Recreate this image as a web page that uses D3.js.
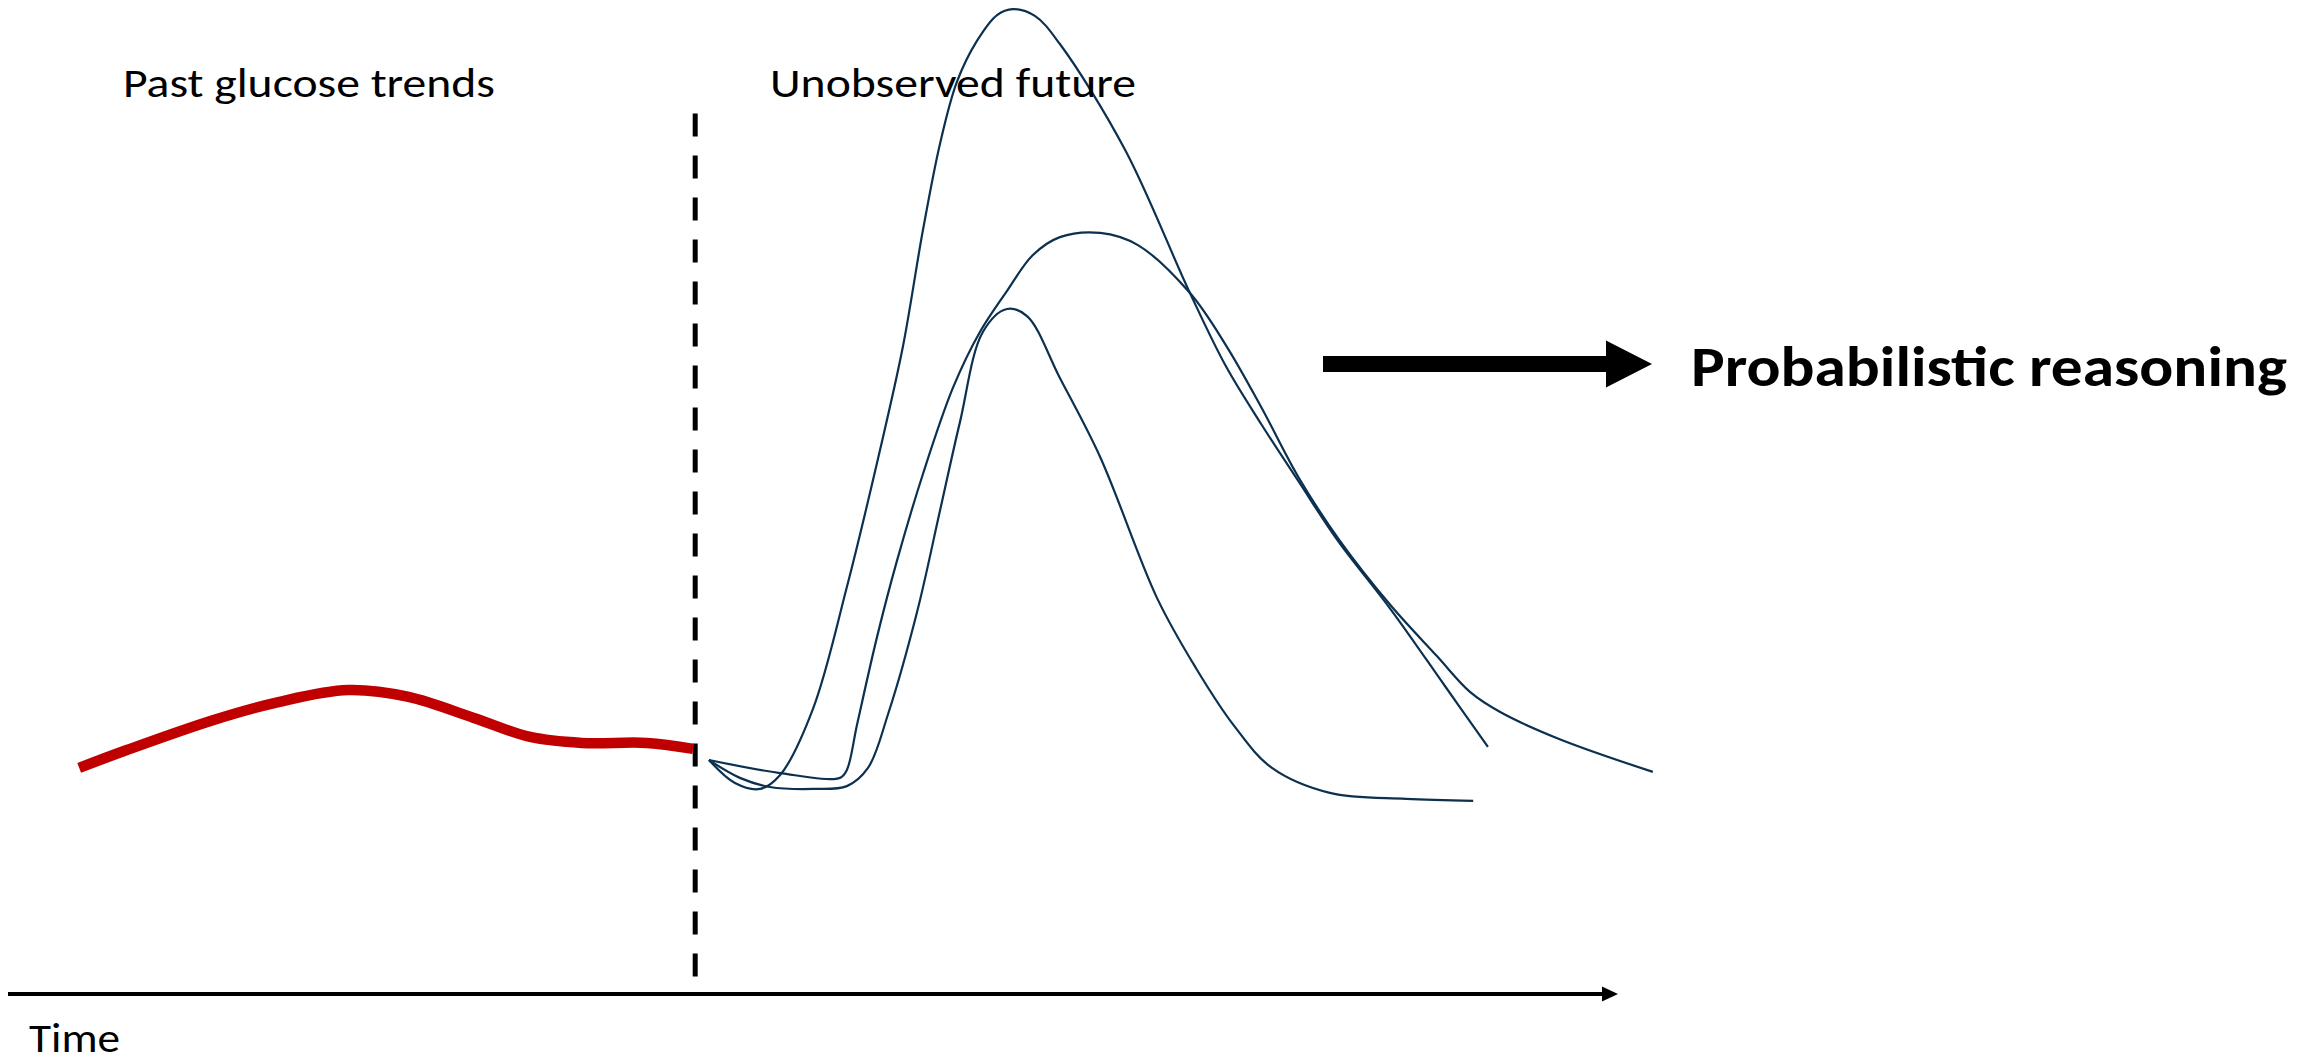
<!DOCTYPE html>
<html>
<head>
<meta charset="utf-8">
<script src="https://cdn.jsdelivr.net/npm/d3@7"></script>
<style>
  html, body { margin: 0; padding: 0; background: #fff; }
  svg { display: block; }
  text { font-family: Carlito, Lato, "Open Sans", sans-serif; fill: #000; }
</style>
</head>
<body>
<svg id="chart" width="2323" height="1063"></svg>
<script>
// time in minutes, glucose in mg/dL
const pastTime    = [14.5, 24.2, 41.9, 55.1, 69.3, 81.6, 94.9, 106.4, 116.9, 130.2, 139.6];
const pastGlucose = [79.6, 85.9, 96.5, 102.8, 107.0, 104.6, 97.2, 90.5, 88.4, 88.4, 86.3];

const highTime    = [142.8, 148.1, 153.2, 157.3, 164.0, 170.9, 177.7, 182.3, 186.4, 189.9, 193.3, 197.4, 201.5, 204.7, 209.2, 214.3, 227.6, 240.8, 248.1, 255.3, 263.0, 270.8, 281.8, 292.6, 301.5];
const highGlucose = [82.4, 74.3, 72.2, 77.1, 100.4, 143.3, 191.9, 227.8, 269.0, 299.6, 321.1, 335.6, 344.7, 346.8, 344.4, 334.5, 297.2, 246.8, 221.1, 200.7, 180.3, 159.9, 135.2, 108.8, 87.0];

const midTime     = [142.8, 157.3, 169.5, 170.9, 173.0, 177.0, 181.1, 186.4, 192.5, 198.0, 203.5, 208.8, 214.3, 222.5, 230.2, 240.8, 248.1, 255.3, 263.0, 271.2, 281.8, 291.1, 297.9, 304.0, 316.0, 335.1];
const midGlucose  = [82.4, 77.8, 76.1, 78.9, 95.1, 125.4, 152.5, 183.1, 213.4, 233.1, 247.5, 260.2, 266.5, 268.0, 263.7, 246.8, 228.5, 206.7, 181.7, 159.9, 136.6, 119.0, 106.3, 99.3, 89.8, 78.2];

const lowTime     = [142.8, 149.1, 155.2, 164.0, 170.9, 175.2, 179.3, 185.2, 189.9, 193.9, 198.6, 203.5, 207.6, 214.3, 222.5, 234.1, 242.0, 249.8, 257.5, 269.3, 284.8, 298.5];
const lowGlucose  = [82.4, 76.1, 72.9, 72.2, 73.2, 79.6, 98.6, 134.5, 170.4, 201.1, 233.1, 241.2, 238.7, 216.9, 189.1, 139.4, 114.8, 94.4, 79.6, 70.8, 68.7, 68.0];

const nowTime = 140;
const labels = ["Past glucose trends", "Unobserved future", "Time", "Probabilistic reasoning"];

const svg = d3.select("#chart");

const x = d3.scaleLinear().domain([0, 328]).range([8, 1618]);
const y = d3.scaleLinear().domain([0, 350]).range([994, 0]);

const zip = (ts, gs) => ts.map((t, i) => ({ t: t, g: gs[i] }));

const line = d3.line()
  .x(d => x(d.t))
  .y(d => y(d.g))
  .curve(d3.curveCatmullRom.alpha(0.5));

// time axis
const axis = svg.append("g")
  .attr("transform", "translate(0," + y(0) + ")")
  .call(d3.axisBottom(x).tickValues([]).tickSizeOuter(0));
axis.select(".domain")
  .attr("d", "M" + x(0) + ",0H" + (x(328) - 8))
  .attr("stroke", "#000")
  .attr("stroke-width", 4);
axis.append("path")
  .attr("d", "M" + (x(328) - 16) + ",-7.5L" + x(328) + ",0L" + (x(328) - 16) + ",7.5Z")
  .attr("fill", "#000");

// now marker
svg.append("line")
  .attr("x1", x(nowTime)).attr("x2", x(nowTime))
  .attr("y1", y(310)).attr("y2", y(5.6))
  .attr("stroke", "#000")
  .attr("stroke-width", 5)
  .attr("stroke-dasharray", "23,19");

// observed history
svg.append("path")
  .datum(zip(pastTime, pastGlucose))
  .attr("d", line)
  .attr("fill", "none")
  .attr("stroke", "#c00000")
  .attr("stroke-width", 10.5);

// sampled futures
const futures = [zip(highTime, highGlucose), zip(midTime, midGlucose), zip(lowTime, lowGlucose)];
svg.selectAll("path.future")
  .data(futures)
  .enter()
  .append("path")
  .attr("class", "future")
  .attr("d", line)
  .attr("fill", "none")
  .attr("stroke", "#0c3150")
  .attr("stroke-width", 2.2)
  .attr("stroke-linejoin", "round");

// labels
svg.append("text")
  .attr("x", 123).attr("y", 97)
  .attr("font-size", 41)
  .attr("textLength", 372).attr("lengthAdjust", "spacingAndGlyphs")
  .text(labels[0]);

svg.append("text")
  .attr("x", 770).attr("y", 97)
  .attr("font-size", 41)
  .attr("textLength", 366).attr("lengthAdjust", "spacingAndGlyphs")
  .text(labels[1]);

svg.append("text")
  .attr("x", 29).attr("y", 1052)
  .attr("font-size", 40)
  .attr("textLength", 91).attr("lengthAdjust", "spacingAndGlyphs")
  .text(labels[2]);

// big arrow + conclusion
const ay = 364;
svg.append("path")
  .attr("d", "M1323," + (ay - 8) + "H1606V" + (ay - 23.5) + "L1652," + ay + "L1606," + (ay + 23.5) + "V" + (ay + 8) + "H1323Z")
  .attr("fill", "#000");

svg.append("text")
  .attr("x", 1691).attr("y", 386)
  .attr("font-size", 57)
  .attr("font-weight", "bold")
  .attr("textLength", 596).attr("lengthAdjust", "spacingAndGlyphs")
  .text(labels[3]);
</script>
</body>
</html>
